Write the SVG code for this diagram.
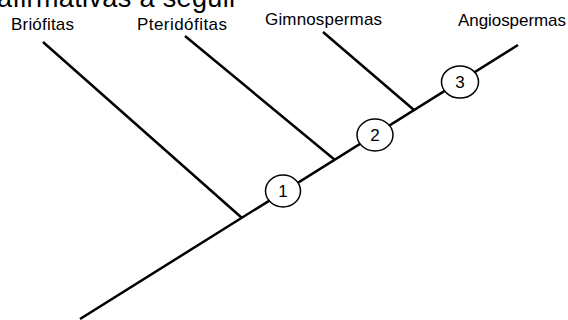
<svg xmlns="http://www.w3.org/2000/svg" width="568" height="320" viewBox="0 0 568 320">
<style>
.lbl{font-family:"Liberation Sans",Arial,sans-serif;font-size:17px;fill:#000}
.num{font-family:"Liberation Sans",Arial,sans-serif;font-size:17px;fill:#000;text-anchor:middle}
.br{stroke:#000;stroke-width:2.5;fill:none;stroke-linecap:butt}
.nd{fill:#fff;stroke:#000;stroke-width:1.5}
</style>
<rect width="568" height="320" fill="#fff"/>
<text x="-3" y="7" style="font-family:'Liberation Sans',Arial,sans-serif;font-size:27px" textLength="241">afirmativas a seguir</text>
<g id="connectors">
<line class="br" x1="80" y1="319" x2="518" y2="45"/>
<line class="br" x1="43" y1="42" x2="242" y2="218"/>
<line class="br" x1="185" y1="36" x2="335" y2="160"/>
<line class="br" x1="323" y1="32" x2="414" y2="110"/>
</g>
<g id="briofitas"><text class="lbl" x="11" y="30" textLength="63">Briófitas</text></g>
<g id="pteridofitas"><text class="lbl" x="137" y="30" textLength="90">Pteridófitas</text></g>
<g id="gimnospermas"><text class="lbl" x="265" y="25" textLength="117">Gimnospermas</text></g>
<g id="angiospermas"><text class="lbl" x="458" y="26" textLength="108">Angiospermas</text></g>
<g id="node1"><ellipse class="nd" cx="283" cy="191" rx="17.5" ry="16"/><text class="num" x="283" y="197">1</text></g>
<g id="node2"><ellipse class="nd" cx="375" cy="135" rx="18" ry="16"/><text class="num" x="375" y="141">2</text></g>
<g id="node3"><ellipse class="nd" cx="460" cy="82" rx="18.5" ry="16"/><text class="num" x="460" y="88">3</text></g>
</svg>
